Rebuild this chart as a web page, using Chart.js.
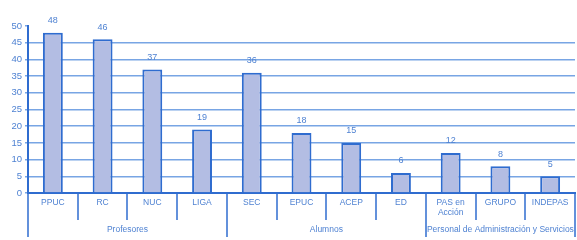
<!DOCTYPE html>
<html>
<head>
<meta charset="utf-8">
<script src="https://cdn.jsdelivr.net/npm/chart.js@4/dist/chart.umd.min.js"></script>
<style>
  html, body { margin: 0; padding: 0; background: #fff; }
  #chart { display: block; }
</style>
</head>
<body>
<canvas id="chart" width="577" height="240"></canvas>
<script>
const categories = ["PPUC", "RC", "NUC", "LIGA", "SEC", "EPUC", "ACEP", "ED", ["PAS en", "Acción"], "GRUPO", "INDEPAS"];
const values = [48, 46, 37, 19, 36, 18, 15, 6, 12, 8, 5];
const groups = ["Profesores", "Alumnos", "Personal de Administración y Servicios"];
const groupSizes = [4, 4, 3];
const yTicks = [0, 5, 10, 15, 20, 25, 30, 35, 40, 45, 50];

const textColor = "#4f82d2";
const lineColor = "#2f6ccf";
const gridColor = "#78a5e4";
const fontFamily = "'Liberation Sans', Arial, sans-serif";

// draws the value labels, category separators and group labels
const groupAxisPlugin = {
    id: 'groupAxis',
    afterDraw(chart) {
        const ctx = chart.ctx;
        const x = chart.scales.x;
        const meta = chart.getDatasetMeta(0);
        ctx.save();
        ctx.fillStyle = textColor;
        ctx.textAlign = 'center';
        ctx.textBaseline = 'middle';

        ctx.font = "9px " + fontFamily;
        meta.data.forEach((bar, i) => {
            ctx.fillText(String(values[i]), bar.x, bar.y - 12);
        });

        const bottom = x.top;
        ctx.strokeStyle = lineColor;
        ctx.lineWidth = 1.5;
        let start = 0;
        const boundaries = [];
        groupSizes.forEach((size) => {
            boundaries.push(start);
            start += size;
        });
        boundaries.push(start);

        for (let k = 0; k <= categories.length; k++) {
            const px = Math.round(x.getPixelForValue(k - 0.5));
            const isGroup = boundaries.includes(k);
            ctx.beginPath();
            ctx.moveTo(px, bottom);
            ctx.lineTo(px, isGroup ? bottom + 44 : bottom + 27);
            ctx.stroke();
        }

        ctx.font = "8.5px " + fontFamily;
        groups.forEach((g, gi) => {
            const a = x.getPixelForValue(boundaries[gi] - 0.5);
            const b = x.getPixelForValue(boundaries[gi + 1] - 0.5);
            ctx.fillText(g, (a + b) / 2, bottom + 37);
        });
        ctx.restore();
    }
};

const ctxEl = document.getElementById('chart');

new Chart(ctxEl, {
    type: 'bar',
    data: {
        labels: categories,
        datasets: [{
            data: values,
            backgroundColor: "#b3bde3",
            borderColor: lineColor,
            borderWidth: 2,
            barPercentage: 0.4,
            categoryPercentage: 1.0,
        }]
    },
    options: {
        responsive: false,
        animation: false,
        events: [],
        layout: { padding: { top: 26, right: 2, left: 0, bottom: 0 } },
        plugins: {
            legend: { display: false },
            tooltip: { enabled: false },
        },
        scales: {
            x: {
                offset: true,
                grid: { display: false, drawTicks: false },
                border: { color: lineColor, width: 2 },
                ticks: {
                    color: textColor,
                    font: { family: fontFamily, size: 8.5, lineHeight: 1.15 },
                    padding: 5,
                    maxRotation: 0,
                    autoSkip: false,
                },
                afterFit(scale) { scale.height = 47; }
            },
            y: {
                min: 0,
                max: 50,
                afterBuildTicks(scale) {
                    scale.ticks = yTicks.map(v => ({ value: v }));
                },
                grid: {
                    color: (c) => (c.tick && c.tick.value === 50) ? 'rgba(0,0,0,0)' : gridColor,
                    tickColor: gridColor,
                    tickLength: 3,
                    lineWidth: 1.5,
                },
                border: { color: lineColor, width: 2 },
                ticks: {
                    color: textColor,
                    font: { family: fontFamily, size: 9.5 },
                    padding: 3,
                },
                afterFit(scale) { scale.width = 28; }
            }
        }
    },
    plugins: [groupAxisPlugin]
});
</script>
</body>
</html>
